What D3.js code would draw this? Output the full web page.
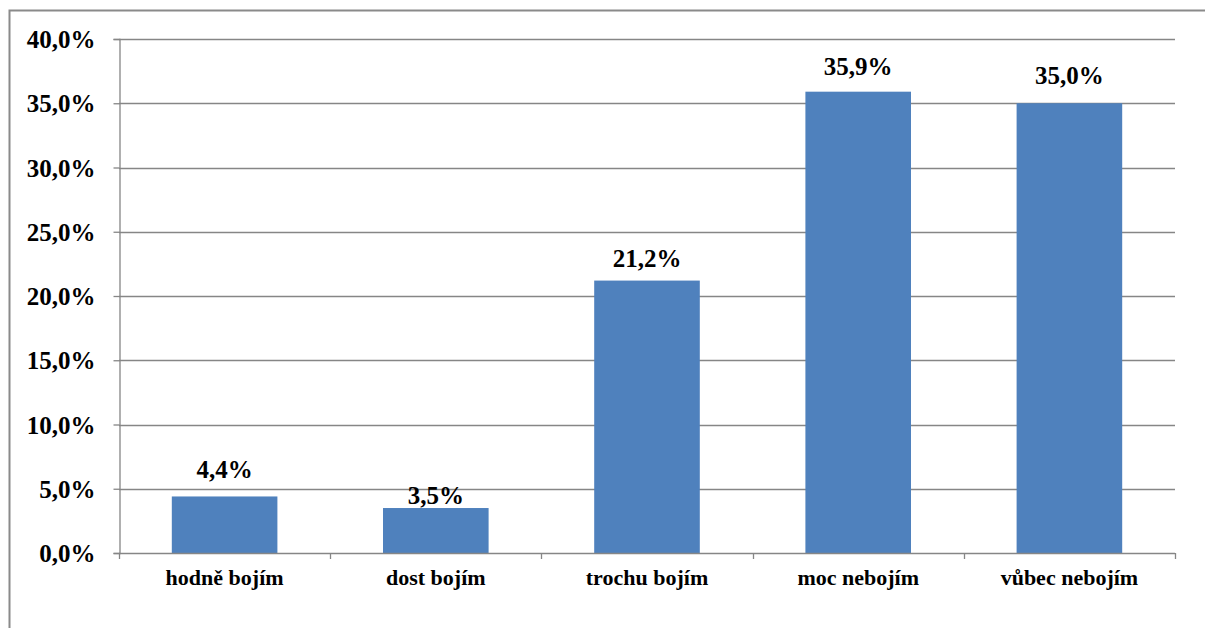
<!DOCTYPE html>
<html>
<head>
<meta charset="utf-8">
<script src="https://cdn.jsdelivr.net/npm/d3@7"></script>
<style>
  html, body { margin: 0; padding: 0; background: #fff; }
  svg { display: block; }
  text { font-family: "Liberation Serif", "Times New Roman", serif; font-weight: bold; fill: #000; }
</style>
</head>
<body>
<svg id="chart" width="1205" height="628"></svg>
<script>
// Survey answers and their shares (%)
const categories = ["hodně bojím", "dost bojím", "trochu bojím", "moc nebojím", "vůbec nebojím"];
const shares = [4.4, 3.5, 21.2, 35.9, 35.0];
const yTicks = [0, 5, 10, 15, 20, 25, 30, 35, 40];

// Hand placement tweaks for the value labels (extra pixels upward)
const labelNudge = [1, -13, -3, 0, 2];

const svg = d3.select("#chart");
const plot = { left: 119, right: 1175, top: 39, bottom: 553 };
const serif = '"Liberation Serif", "Times New Roman", serif';

const fmt = v => v.toFixed(1).replace(".", ",") + "%";

const x = d3.scaleBand()
  .domain(categories)
  .range([plot.left, plot.right])
  .paddingInner(0.5)
  .paddingOuter(0.25);

const y = d3.scaleLinear()
  .domain([0, 40])
  .range([plot.bottom, plot.top]);

// Outer frame
svg.append("rect")
  .attr("x", 9.5).attr("y", 10.5)
  .attr("width", 1220).attr("height", 640)
  .attr("fill", "none")
  .attr("stroke", "#8a8a8a")
  .attr("stroke-width", 2);

// Horizontal gridlines
svg.append("g")
  .selectAll("line")
  .data(yTicks.filter(t => t > 0))
  .join("line")
  .attr("x1", plot.left).attr("x2", plot.right)
  .attr("y1", d => Math.round(y(d)) + 0.5)
  .attr("y2", d => Math.round(y(d)) + 0.5)
  .attr("stroke", "#868686")
  .attr("stroke-width", 1.3);

// Bars
svg.append("g")
  .selectAll("rect")
  .data(shares)
  .join("rect")
  .attr("x", (d, i) => x(categories[i]))
  .attr("width", x.bandwidth())
  .attr("y", d => y(d))
  .attr("height", d => y(0) - y(d))
  .attr("fill", "#4f81bd");

// Y axis
const yAxis = svg.append("g")
  .attr("transform", `translate(${plot.left + 0.5},0)`)
  .call(d3.axisLeft(y).tickValues(yTicks).tickFormat(fmt).tickSize(6).tickPadding(18));
yAxis.select(".domain").attr("stroke", "#868686").attr("stroke-width", 1.3);
yAxis.selectAll(".tick line").attr("stroke", "#868686").attr("stroke-width", 1.3);
yAxis.selectAll(".tick text")
  .attr("fill", "#000")
  .attr("dy", "0.34em")
  .style("font-family", serif)
  .style("font-weight", "bold")
  .style("font-size", "25px");

// X axis: baseline plus ticks on the category boundaries
const bounds = d3.range(categories.length + 1).map(i => plot.left + i * x.step());
const xAxisG = svg.append("g");
xAxisG.append("line")
  .attr("x1", plot.left).attr("x2", plot.right)
  .attr("y1", plot.bottom + 0.5).attr("y2", plot.bottom + 0.5)
  .attr("stroke", "#868686").attr("stroke-width", 1.3);
xAxisG.selectAll("line.tick")
  .data(bounds)
  .join("line")
  .attr("class", "tick")
  .attr("x1", d => Math.round(d) + 0.5).attr("x2", d => Math.round(d) + 0.5)
  .attr("y1", plot.bottom).attr("y2", plot.bottom + 6)
  .attr("stroke", "#868686").attr("stroke-width", 1.3);
xAxisG.selectAll("text")
  .data(categories)
  .join("text")
  .attr("x", d => x(d) + x.bandwidth() / 2)
  .attr("y", 585)
  .attr("text-anchor", "middle")
  .style("font-size", "22px")
  .text(d => d);

// Value labels above the bars
svg.append("g")
  .selectAll("text")
  .data(shares)
  .join("text")
  .attr("x", (d, i) => x(categories[i]) + x.bandwidth() / 2)
  .attr("y", (d, i) => y(d) - 17 - labelNudge[i])
  .attr("text-anchor", "middle")
  .style("font-size", "25px")
  .text(d => fmt(d));
</script>
</body>
</html>
